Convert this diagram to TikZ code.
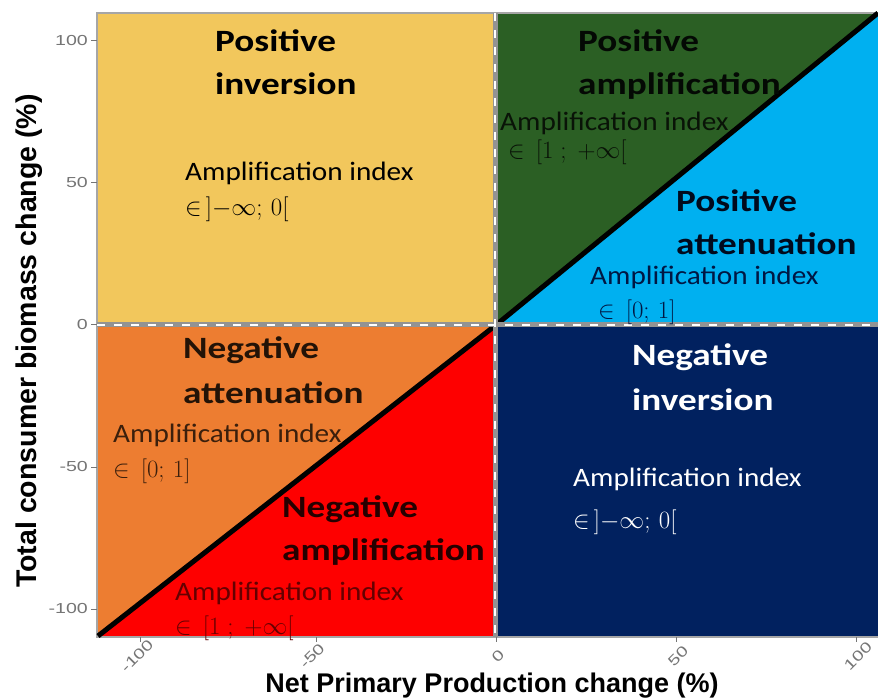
\documentclass[tikz,border=0pt]{standalone}
\usepackage{fontspec}
\setmainfont{Carlito}
\newfontfamily\ttlfont{Carlito}[FakeStretch=1.2]
\newfontfamily\idxfont{Carlito}[FakeStretch=1.1]
\newfontfamily\axfont{Liberation Sans}
\newfontfamily\tickfont{Liberation Sans}[FakeStretch=1.35]
\definecolor{cyel}{HTML}{F2C75C}
\definecolor{cgrn}{HTML}{2B5F24}
\definecolor{cblu}{HTML}{00B0F0}
\definecolor{cora}{HTML}{ED7D31}
\definecolor{cred}{HTML}{FE0000}
\definecolor{cnav}{HTML}{01215F}
\definecolor{ctick}{HTML}{757575}
\begin{document}
\begin{tikzpicture}[x=1pt,y=-1pt,
  ttl/.style={anchor=base west, inner sep=0pt, font=\ttlfont\bfseries\fontsize{31}{31}\selectfont},
  idx/.style={anchor=base west, inner sep=0pt, font=\idxfont\fontsize{26.6}{26.6}\selectfont},
  mth/.style={anchor=base west, inner sep=0pt, font=\fontsize{25}{25}\selectfont},
  ylab/.style={anchor=east, inner sep=0pt, text=ctick, font=\tickfont\fontsize{14.5}{14.5}\selectfont},
  xlab/.style={anchor=center, inner sep=0pt, rotate=45, text=ctick, font=\tickfont\fontsize{14.5}{14.5}\selectfont},
  axtitle/.style={inner sep=0pt, font=\axfont\bfseries\fontsize{27}{27}\selectfont},
  tickmark/.style={ctick, line width=1pt},
  sep/.style={line width=5pt, color=gray!85},
  sepdash/.style={line width=2pt, white, dash pattern=on 8pt off 9pt},
  diag/.style={line width=5pt, black}]
\useasboundingbox (0,0) rectangle (878,700);
\fill[white] (0,0) rectangle (878,700);
% quadrants
\fill[cyel] (97,13) rectangle (495,325);
\fill[cgrn] (495,13) -- (878,13) -- (495,325) -- cycle;
\fill[cblu] (495,325) -- (878,13) -- (878,325) -- cycle;
\fill[cora] (97,325) -- (495,325) -- (97,637) -- cycle;
\fill[cred] (495,325) -- (495,637) -- (97,637) -- cycle;
\fill[cnav] (495,325) rectangle (878,637);
% frame
\draw[gray!70, line width=1.5pt] (878,13) -- (97,13) -- (97,637) -- (878,637);
% diagonals
\coordinate (o) at (496,325);
\coordinate (bl) at (98,636);
\coordinate (tr) at (878,13);
\draw[diag] (bl) -- (o);
\draw[diag] (o) -- (tr);
% separators
\coordinate (vt) at (495,13);
\coordinate (vb) at (495,637);
\coordinate (hl) at (97,325);
\coordinate (hr) at (878,325);
\draw[sep] (vt) -- (vb);
\draw[sep] (hl) -- (hr);
\draw[sepdash] (vt) -- (vb);
\draw[sepdash] (hl) -- (hr);
% texts top-left
\node[ttl] (t1a) at (215,52) {Positive};
\node[ttl] (t1b) at (215,95) {inversion};
\node[idx] (i1) at (185,181) {Amplification index};
\node[mth] (m1) at (185,216) {$\in\,]{-}\infty;\,0[$};
% top-right green
\node[ttl, text=black!90!cgrn] (t2a) at (578,52) {Positive};
\node[ttl, text=black!90!cgrn] (t2b) at (578,95) {amplification};
\node[idx, text=black!80!cgrn] (i2) at (500,131) {Amplification index};
\node[mth, text=black!80!cgrn] (m2) at (508,159) {$\in\,[1\;;\;+\infty[$};
% blue
\node[ttl, text=black!70!cnav] (t3a) at (676,212) {Positive};
\node[ttl, text=black!70!cnav] (t3b) at (676,255) {attenuation};
\node[idx, text=black!30!cnav] (i3) at (590,285) {Amplification index};
\node[mth, text=black!30!cnav] (m3) at (598,319) {$\in\,[0;\,1]$};
% orange
\node[ttl, text=black!85!cora] (t4a) at (183,359) {Negative};
\node[ttl, text=black!85!cora] (t4b) at (183,403) {attenuation};
\node[idx, text=black!75!cora] (i4) at (113,442) {Amplification index};
\node[mth, text=black!75!cora] (m4) at (113,477) {$\in\,[0;\,1]$};
% red
\node[ttl, text=black!85!cred] (t5a) at (282,517) {Negative};
\node[ttl, text=black!85!cred] (t5b) at (282,560) {amplification};
\node[idx, text=black!60!cred] (i5) at (175,600) {Amplification index};
\node[mth, text=black!60!cred] (m5) at (175,634) {$\in\,[1\;;\;+\infty[$};
% navy
\node[ttl, text=white] (t6a) at (632,366) {Negative};
\node[ttl, text=white] (t6b) at (632,410) {inversion};
\node[idx, text=white] (i6) at (573,486) {Amplification index};
\node[mth, text=white] (m6) at (573,528) {$\in\,]{-}\infty;\,0[$};
% y axis
\foreach \v/\yy in {100/41,50/183,0/325,-50/467,-100/609}{
  \draw[tickmark] (91,\yy) -- (97,\yy);
  \node[ylab] (yl\v) at (88,\yy) {\v};
}
% x axis
\foreach \v/\xx/\lx in {-100/140/137,-50/316/312,0/496/498,50/676/678,100/856/858}{
  \draw[tickmark] (\xx,637) -- (\xx,642);
  \node[xlab] (xl\v) at (\lx,656) {\v};
}
\node[axtitle] (xt) at (492,686) {Net Primary Production change (\%)};
\node[axtitle, rotate=90, font=\axfont\bfseries\fontsize{28.5}{28.5}\selectfont] (yt) at (29,341) {Total consumer biomass change (\%)};
\end{tikzpicture}
\end{document}
